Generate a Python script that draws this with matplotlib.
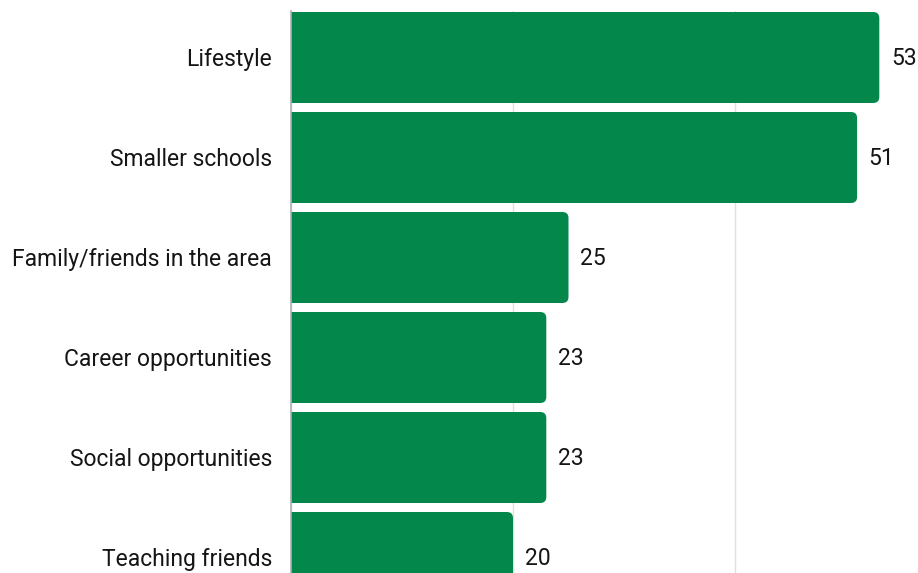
import matplotlib
matplotlib.use("Agg")
import matplotlib.pyplot as plt
from matplotlib.patches import FancyBboxPatch

categories = ["Lifestyle", "Smaller schools", "Family/friends in the area",
              "Career opportunities", "Social opportunities", "Teaching friends"]
values = [53, 51, 25, 23, 23, 20]
xticks = [0, 20, 40]

plt.rcParams['font.family'] = ['Roboto', 'DejaVu Sans']
green = '#04874A'
txt = '#151515'

W, H = 918, 573
fig = plt.figure(figsize=(W / 100, H / 100), dpi=100)
ax = fig.add_axes([291 / W, 0, 1 - 291 / W, (H - 11) / H])

px_per_unit = 11.1
xmax = (W - 291) / px_per_unit
ax.set_xlim(0, xmax)
ax.set_ylim((H - 57.5) / 100, -0.465)

bh = 0.91
r = 0.55  # rounding in x units (~6px)
aspect = (6 / 100) / r
for i, v in enumerate(values):
    ax.barh(i, v / 2, height=bh, color=green, linewidth=0, zorder=2)
    box = FancyBboxPatch((0, i - bh / 2), v, bh,
                         boxstyle=f"round,pad=0,rounding_size={r}",
                         mutation_aspect=aspect, facecolor=green,
                         edgecolor='none', zorder=2)
    ax.add_patch(box)
    ax.text(v + 1.05, i + 0.01, str(v), va='center', ha='left',
            fontsize=16.5, color=txt)

ax.set_xticks(xticks)
ax.xaxis.grid(True, color='#e0e0e0', linewidth=1, zorder=0)
ax.tick_params(axis='x', length=0, labelbottom=False)
ax.set_yticks(range(len(categories)))
ax.set_yticklabels(categories, fontsize=16.5, color=txt)
ax.tick_params(axis='y', length=0, pad=13.5)
for s in ['top', 'right', 'bottom']:
    ax.spines[s].set_visible(False)
ax.spines['left'].set_color('#b0b0b0')
ax.spines['left'].set_linewidth(1.2)
ax.spines['left'].set_zorder(3)

fig.savefig('out.png', dpi=100)
